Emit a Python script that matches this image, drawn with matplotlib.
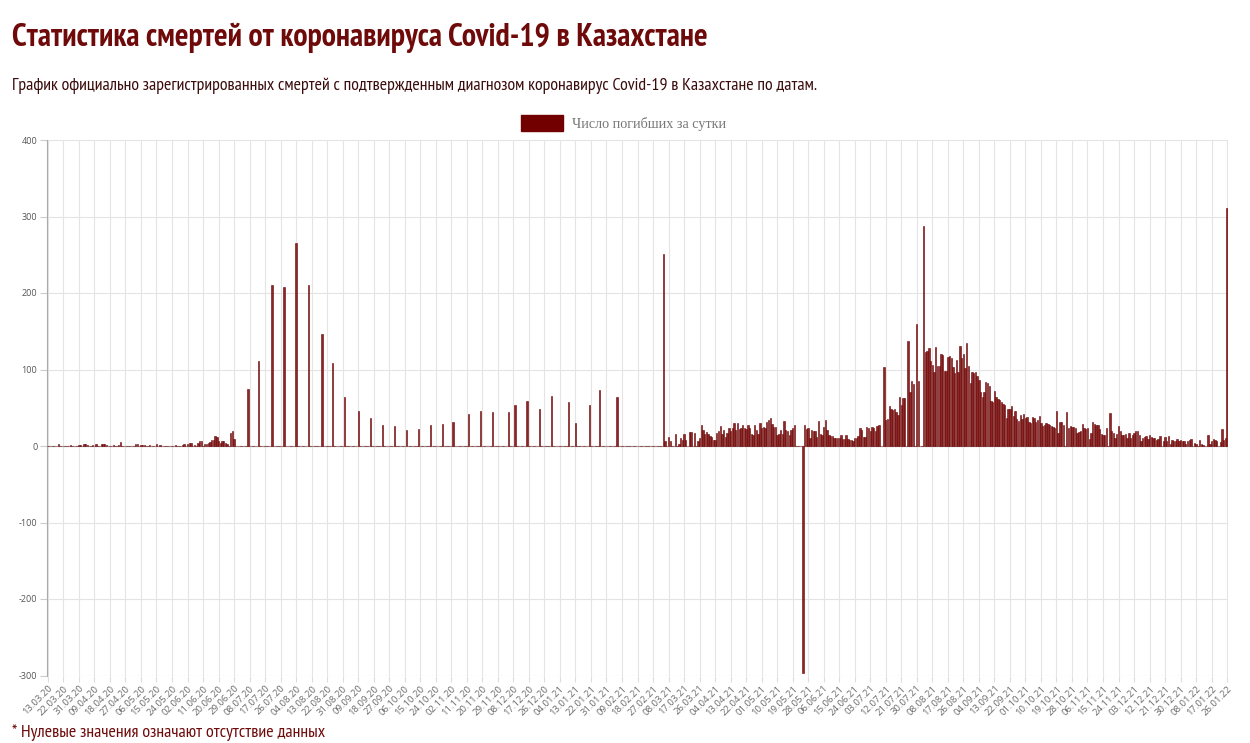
import numpy as np
import pandas as pd
import matplotlib.pyplot as plt
from matplotlib.patches import Patch

plt.rcParams["axes.unicode_minus"] = False

# daily deaths 13.03.20 - 30.06.20
spring_2020 = [
    0, 0, 0, 0, 0, 0, 3, 0, 0, 0,
    0, 0, 0, 1, 0, 0, 0, 0, 1, 1,
    0, 2, 2, 1, 0, 0, 1, 0, 3, 0,
    0, 2, 2, 2, 1, 0, 0, 0, 1, 0,
    0, 1, 5, 0, 0, 0, 0, 0, 0, 0,
    0, 2, 2, 0, 1, 1, 1, 0, 0, 1,
    0, 0, 0, 2, 0, 1, 0, 0, 0, 0,
    0, 0, 0, 0, 1, 0, 0, 0, 1, 3,
    0, 3, 4, 4, 0, 1, 0, 4, 6, 6,
    0, 3, 3, 4, 5, 8, 8, 13, 12, 6,
    4, 7, 7, 4, 3, 0, 17, 20, 9, 0,
]

# sparse (weekly) reports, July 2020 - February 2021
weekly_dates = [
    "07.07.20", "13.07.20", "21.07.20", "28.07.20", "04.08.20", "11.08.20",
    "19.08.20", "25.08.20", "01.09.20", "09.09.20", "16.09.20", "23.09.20",
    "30.09.20", "07.10.20", "14.10.20", "21.10.20", "28.10.20", "03.11.20",
    "12.11.20", "19.11.20", "26.11.20", "05.12.20", "09.12.20", "16.12.20",
    "23.12.20", "30.12.20", "09.01.21", "13.01.21", "21.01.21", "27.01.21",
    "06.02.21",
]
weekly_values = [
    75, 111, 210, 208, 265, 211,
    146, 108, 64, 46, 37, 27,
    26, 21, 22, 27, 29, 32,
    42, 46, 45, 44, 54, 59,
    48, 66, 57, 30, 54, 73,
    64,
]

# daily deaths 05.03.21 - 26.01.22
daily_2021 = [
    251, 7, 0, 12, 6, 0, 0, 16, 0, 3,
    10, 8, 16, 8, 0, 18, 18, 0, 17, 0,
    6, 10, 27, 21, 16, 18, 16, 13, 12, 8,
    8, 17, 19, 26, 16, 21, 12, 17, 24, 19,
    24, 30, 21, 30, 22, 23, 28, 23, 22, 28,
    23, 16, 15, 28, 21, 16, 30, 23, 25, 23,
    32, 34, 36, 29, 25, 25, 15, 16, 21, 16,
    33, 21, 19, 15, 21, 23, 28, 0, 0, 0,
    0, -297, 27, 22, 23, 11, 21, 20, 19, 12,
    33, 16, 14, 25, 34, 21, 14, 13, 13, 11,
    11, 10, 10, 14, 9, 9, 14, 9, 8, 8,
    6, 11, 11, 13, 24, 21, 12, 12, 25, 23,
    19, 25, 24, 20, 26, 27, 0, 0, 103, 34,
    35, 52, 48, 47, 48, 45, 40, 64, 54, 63,
    63, 0, 137, 70, 85, 81, 0, 160, 85, 0,
    0, 287, 123, 124, 128, 111, 106, 97, 130, 105,
    105, 120, 119, 98, 98, 116, 118, 115, 103, 95,
    112, 97, 131, 115, 120, 102, 134, 104, 82, 97,
    95, 97, 91, 86, 71, 64, 71, 84, 83, 78,
    59, 58, 72, 64, 61, 60, 58, 55, 54, 36,
    48, 49, 52, 39, 46, 35, 33, 41, 35, 42,
    37, 38, 32, 30, 38, 36, 32, 34, 39, 30,
    26, 27, 30, 29, 27, 26, 25, 23, 46, 17,
    32, 32, 27, 0, 44, 24, 26, 25, 25, 24,
    17, 18, 19, 29, 24, 22, 24, 9, 17, 32,
    29, 28, 27, 22, 16, 14, 15, 23, 0, 43,
    19, 17, 10, 16, 26, 19, 15, 14, 16, 11,
    17, 10, 14, 17, 19, 20, 14, 6, 10, 12,
    13, 9, 14, 12, 11, 10, 8, 9, 13, 0,
    7, 12, 6, 13, 3, 8, 6, 6, 9, 7,
    8, 6, 7, 3, 7, 8, 9, 0, 4, 3,
    0, 8, 3, 1, 0, 0, 14, 3, 6, 9,
    8, 7, 0, 5, 22, 8, 10, 311,
]

dates = pd.date_range("2020-03-13", "2022-01-26", freq="D")
deaths = pd.Series(0, index=dates)
deaths.loc["2020-03-13":"2020-06-30"] = spring_2020
for d, v in zip(weekly_dates, weekly_values):
    deaths.loc[pd.to_datetime(d, format="%d.%m.%y")] = v
deaths.loc["2021-03-05":"2022-01-26"] = daily_2021

labels = [d.strftime("%d.%m.%y") for d in dates]

narrow = ["PT Sans Narrow", "Fira Sans Condensed", "Roboto Condensed",
          "Open Sans Condensed", "DejaVu Sans"]
dark_red = "#6e0a0a"

W, H = 1250, 743
fig = plt.figure(figsize=(W / 100, H / 100), dpi=100)
ax = fig.add_axes([47 / W, 1 - 675.5 / H, (1228 - 47) / W, (675.5 - 140) / H])

x = np.arange(len(deaths))
ax.bar(x, deaths.values, width=0.8, color="#8a2828", edgecolor="#6a0000",
       linewidth=0.4, zorder=3)

ax.set_xlim(-0.5, len(deaths) - 0.5)
ax.set_ylim(-300, 400)
ax.set_yticks(range(-300, 401, 100))
step = 9
ax.set_xticks(x[::step])
ax.set_xticklabels(labels[::step], rotation=45, ha="right",
                   rotation_mode="anchor", fontsize=6.8, color="#6a6a6a",
                   family=["Open Sans", "DejaVu Sans"])
ax.tick_params(axis="y", labelsize=6.5, labelcolor="#555555", length=5,
               color="#cccccc", pad=2)
for t in ax.get_yticklabels():
    t.set_family(["Open Sans", "DejaVu Sans"])
ax.tick_params(axis="x", length=4, color="#dddddd", pad=2)
ax.grid(True, color="#e4e4e4", linewidth=0.8, zorder=0)
ax.axhline(0, color="#bbbbbb", linewidth=0.9, zorder=2)
for s in ["top", "right", "bottom"]:
    ax.spines[s].set_visible(False)
ax.spines["left"].set_color("#aaaaaa")

fig.text(12 / W, 1 - 46 / H, "Статистика смертей от коронавируса Covid-19 в Казахстане",
         family=narrow, fontsize=23, fontweight="bold", color=dark_red,
         va="baseline")
fig.text(12 / W, 1 - 90 / H,
         "График официально зарегистрированных смертей с подтвержденным "
         "диагнозом коронавирус Covid-19 в Казахстане по датам.",
         family=narrow, fontsize=12.9, color="#3a0c0c", va="baseline")
fig.text(12 / W, 1 - 737 / H, "* Нулевые значения означают отсутствие данных",
         family=narrow, fontsize=13, color=dark_red, va="baseline")

handle = Patch(facecolor="#720000", edgecolor="#720000")
fig.legend([handle], ["Число погибших за сутки"], loc="center",
           bbox_to_anchor=(624 / W, 1 - 123 / H), frameon=False,
           handlelength=2.9, handleheight=1.3, handletextpad=0.7,
           prop={"family": ["Liberation Serif", "DejaVu Serif"], "size": 10.2},
           labelcolor="#777777")

fig.savefig("out.png", dpi=100)
